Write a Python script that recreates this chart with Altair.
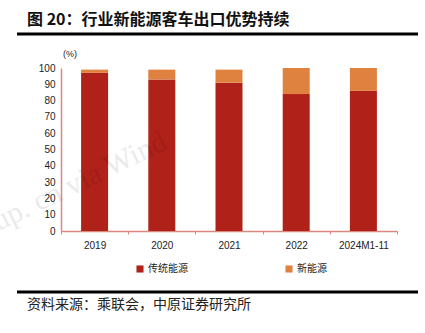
import altair as alt
import pandas as pd

categories = ["2019", "2020", "2021", "2022", "2024M1-11"]
traditional = [97, 93, 91, 84, 86]
new_energy = [2, 6, 8, 16, 14]
series_names = ["传统能源", "新能源"]
colors = ["#B0211A", "#E0823F"]

rows = []
for c, t, n in zip(categories, traditional, new_energy):
    rows.append({"cat": c, "series": series_names[0], "val": t, "ord": 0})
    rows.append({"cat": c, "series": series_names[1], "val": n, "ord": 1})
df = pd.DataFrame(rows)

FONT = "Liberation Sans"
CJK = "Noto Sans CJK SC"

bars = alt.Chart(df).mark_bar(size=27).encode(
    x=alt.X("cat:N", sort=categories, title=None,
            scale=alt.Scale(paddingInner=0, paddingOuter=0),
            axis=alt.Axis(labelAngle=0, labelFont=FONT, labelFontSize=10,
                          labelColor="#222222", domainColor="#D98880",
                          domainWidth=1.5, tickColor="#D98880", tickSize=3,
                          tickBand="extent", labelPadding=6)),
    y=alt.Y("val:Q", stack="zero", title=None,
            scale=alt.Scale(domain=[0, 100]),
            axis=alt.Axis(values=list(range(0, 101, 10)), grid=False,
                          labelFont=FONT, labelFontSize=10, labelColor="#222222",
                          domainColor="#D98880", domainWidth=1.5,
                          ticks=False, labelPadding=6)),
    color=alt.Color("series:N", sort=series_names,
                    scale=alt.Scale(domain=series_names, range=colors),
                    legend=alt.Legend(orient="none", legendX=74, legendY=196,
                                      direction="horizontal", title=None,
                                      symbolType="square", symbolSize=50,
                                      symbolStrokeWidth=0,
                                      labelFont=CJK, labelFontSize=10,
                                      labelColor="#222222", columnPadding=96,
                                      labelOffset=3)),
    order=alt.Order("ord:Q"),
)

title_df = pd.DataFrame({"t": ["图 20：行业新能源客车出口优势持续"]})
title = alt.Chart(title_df).mark_text(
    align="left", baseline="middle", font=CJK, fontSize=16, fontWeight="bold",
    color="#111111", clip=False
).encode(x=alt.value(-34), y=alt.value(-48), text="t:N")

unit = alt.Chart(pd.DataFrame({"t": ["(%)"]})).mark_text(
    align="left", baseline="middle", font=FONT, fontSize=9, color="#222222"
).encode(x=alt.value(2), y=alt.value(-14), text="t:N")

src = alt.Chart(pd.DataFrame({"t": ["资料来源：乘联会，中原证券研究所"]})).mark_text(
    align="left", baseline="middle", font=CJK, fontSize=14, color="#222222"
).encode(x=alt.value(-34), y=alt.value(237), text="t:N")

line_top = alt.Chart(pd.DataFrame({"a": [0]})).mark_rule(
    color="#000000", strokeWidth=3
).encode(x=alt.value(-44), x2=alt.value(357), y=alt.value(-34))

line_bot = alt.Chart(pd.DataFrame({"a": [0]})).mark_rule(
    color="#000000", strokeWidth=3
).encode(x=alt.value(-44), x2=alt.value(357), y=alt.value(224))

wm = alt.Chart(pd.DataFrame({"t": ["up. cn via Wind"]})).mark_text(
    align="right", baseline="middle", font="Liberation Serif", fontSize=30,
    color="#000000", opacity=0.08, angle=334
).encode(x=alt.value(104), y=alt.value(72), text="t:N")

chart = alt.layer(bars, wm, title, unit, src, line_top, line_bot).properties(
    width=336, height=163,
    autosize=alt.AutoSizeParams(type="none"),
    padding={"left": 61, "top": 68, "right": 28, "bottom": 102},
    background="#ffffff",
).configure_view(stroke=None)

chart.save("out.html", embed_options={"renderer": "svg", "actions": False})
